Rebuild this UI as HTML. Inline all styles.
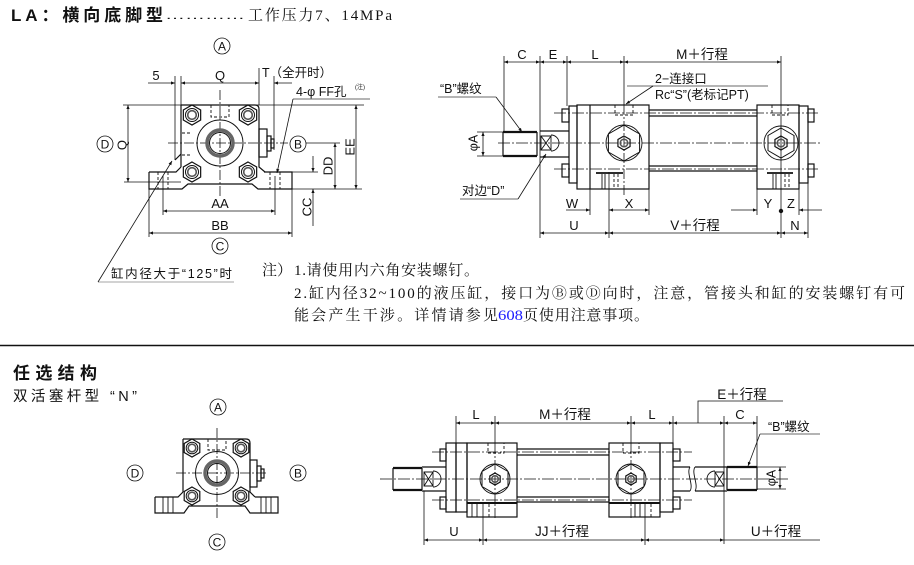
<!DOCTYPE html>
<html><head><meta charset="utf-8"><style>
html,body{margin:0;padding:0;background:#fff;}
svg{display:block}
text{font-family:"Liberation Sans","Noto Sans CJK SC",sans-serif;fill:#111;stroke:none}
.s{font-family:"Liberation Serif","Noto Serif CJK SC",serif}
.m{text-anchor:middle}
</style></head><body>
<svg width="914" height="565" viewBox="0 0 914 565" xmlns="http://www.w3.org/2000/svg">
<defs>
<marker id="a" viewBox="0 0 10 10" refX="10" refY="5" markerWidth="9" markerHeight="4" orient="auto-start-reverse" markerUnits="userSpaceOnUse"><path d="M0,1 L10,5 L0,9z" fill="#111"/></marker>
<path id="h10" d="M0,-10 L8.66,-5 L8.66,5 L0,10 L-8.66,5 L-8.66,-5Z"/>
<path id="h9" d="M0,-9 L7.8,-4.5 L7.8,4.5 L0,9 L-7.8,4.5 L-7.8,-4.5Z"/>
<path id="h18" d="M0,-18 L15.6,-9 L15.6,9 L0,18 L-15.6,9 L-15.6,-9Z"/>
<path id="h15" d="M0,-15 L13,-7.5 L13,7.5 L0,15 L-13,7.5 L-13,-7.5Z"/>
<path id="h7" d="M0,-7 L6.06,-3.5 L6.06,3.5 L0,7 L-6.06,3.5 L-6.06,-3.5Z"/>
<path id="h6" d="M0,-6 L5.2,-3 L5.2,3 L0,6 L-5.2,3 L-5.2,-3Z"/>
</defs>

<!-- ===== TITLE ===== -->
<text x="11" y="21" font-size="17" font-weight="bold" textLength="152" lengthAdjust="spacing">LA：横向底脚型</text>
<text x="165" y="19" font-size="12" textLength="80" lengthAdjust="spacingAndGlyphs">…………</text>
<text class="s" x="248" y="20" font-size="15" textLength="144" lengthAdjust="spacing">工作压力7、14MPa</text>

<!-- ===== TOP LEFT END VIEW ===== -->
<g fill="none" stroke="#111" stroke-width="0.8">
  <circle cx="222" cy="46" r="8"/>
  <circle cx="105" cy="144" r="8"/>
  <circle cx="298" cy="144" r="8"/>
  <circle cx="220" cy="246" r="8"/>
  <line x1="148" y1="83" x2="175" y2="83" marker-end="url(#a)"/>
  <line x1="181" y1="83" x2="259" y2="83" marker-start="url(#a)" marker-end="url(#a)"/>
  <line x1="292" y1="83" x2="274" y2="83" marker-end="url(#a)"/>
  <line x1="175" y1="76" x2="175" y2="160"/>
  <line x1="181" y1="76" x2="181" y2="105"/>
  <line x1="259" y1="68" x2="259" y2="105"/>
  <line x1="274" y1="76" x2="274" y2="150"/>
  <line x1="123" y1="105" x2="364" y2="105"/>
  <line x1="124" y1="182" x2="181" y2="182"/>
  <line x1="128" y1="105" x2="128" y2="182" marker-start="url(#a)" marker-end="url(#a)"/>
  <line x1="306" y1="143" x2="340" y2="143"/>
  <line x1="292" y1="189" x2="362" y2="189"/>
  <line x1="292" y1="172" x2="318" y2="172"/>
  <line x1="335" y1="143" x2="335" y2="189" marker-start="url(#a)" marker-end="url(#a)"/>
  <line x1="356" y1="105" x2="356" y2="189" marker-start="url(#a)" marker-end="url(#a)"/>
  <line x1="313" y1="156" x2="313" y2="172" marker-end="url(#a)"/>
  <line x1="313" y1="226" x2="313" y2="189" marker-end="url(#a)"/>
  <line x1="163" y1="176" x2="163" y2="215"/>
  <line x1="275" y1="176" x2="275" y2="215"/>
  <line x1="149" y1="189" x2="149" y2="237"/>
  <line x1="292" y1="189" x2="292" y2="237"/>
  <line x1="163" y1="211" x2="275" y2="211" marker-start="url(#a)" marker-end="url(#a)"/>
  <line x1="149" y1="233" x2="292" y2="233" marker-start="url(#a)" marker-end="url(#a)"/>
  <line x1="168" y1="143" x2="288" y2="143" stroke-dasharray="10 2 2 2"/>
  <line x1="220" y1="90" x2="220" y2="197" stroke-dasharray="10 2 2 2"/>
  <line x1="98" y1="282" x2="234" y2="282" stroke="#888"/>
  <line x1="98" y1="282" x2="172" y2="161" marker-end="url(#a)"/>
  <line x1="293" y1="99" x2="370" y2="99" stroke="#888" stroke-width="1.2"/>
  <line x1="293" y1="99" x2="277" y2="173" marker-end="url(#a)"/>
</g>
<g fill="none" stroke="#111" stroke-width="1.2">
  <path d="M181,105 H255 Q259,105 259,109 V167 L265,172"/>
  <line x1="181" y1="105" x2="181" y2="167"/>
  <path d="M175,160 L181,154"/>
  <path d="M149,172 H176 L181,167"/>
  <path d="M149,172 V189 H182 L188,184 H252 L258,189 H292 V172 H264"/>
  <rect x="259" y="129" width="8" height="28"/>
  <rect x="267" y="136" width="4" height="15"/>
  <rect x="271" y="139" width="3" height="9"/>
  <circle cx="220" cy="143" r="23" stroke-width="1"/>
  <circle cx="220" cy="143" r="13" stroke="#666" stroke-width="3.5"/>
  <circle cx="220" cy="143" r="10.5" stroke-width="1"/>
  <use href="#h10" x="192" y="115"/><use href="#h10" x="248" y="115"/>
  <use href="#h10" x="192" y="172"/><use href="#h10" x="248" y="172"/>
  <g stroke-width="1"><circle cx="192" cy="115" r="6.5"/><circle cx="248" cy="115" r="6.5"/><circle cx="192" cy="172" r="6.5"/><circle cx="248" cy="172" r="6.5"/></g>
  <g stroke-width="1.6" stroke="#555"><circle cx="192" cy="115" r="4.3"/><circle cx="248" cy="115" r="4.3"/><circle cx="192" cy="172" r="4.3"/><circle cx="248" cy="172" r="4.3"/></g>
  <g stroke-width="0.9" stroke-dasharray="3 2">
    <path d="M211,105 V117 H229 V105"/>
    <line x1="182" y1="133" x2="192" y2="133"/><line x1="182" y1="155" x2="192" y2="155"/>
    <line x1="158" y1="172" x2="158" y2="189"/><line x1="168" y1="172" x2="168" y2="189"/>
    <line x1="270" y1="172" x2="270" y2="189"/><line x1="280" y1="172" x2="280" y2="189"/>
  </g>
</g>
<g font-size="13">
  <text x="222" y="50.5" class="m" font-size="12">A</text>
  <text x="105" y="148.5" class="m" font-size="12">D</text>
  <text x="298" y="148.5" class="m" font-size="12">B</text>
  <text x="220" y="250.5" class="m" font-size="12">C</text>
  <text x="156" y="80" class="m">5</text>
  <text x="220" y="80" class="m">Q</text>
  <text x="262" y="77" font-size="12.5">T（全开时）</text>
  <text x="296" y="96" font-size="12.5">4-φ FF孔</text>
  <text x="355" y="89" font-size="6">(注)</text>
  <text x="220" y="208" class="m">AA</text>
  <text x="220" y="230" class="m">BB</text>
  <text transform="translate(126.5,145) rotate(-90)" class="m">Q</text>
  <text transform="translate(332.5,166) rotate(-90)" class="m">DD</text>
  <text transform="translate(354.5,147) rotate(-90)" class="m">EE</text>
  <text transform="translate(311.5,207) rotate(-90)" class="m">CC</text>
  <text x="111" y="278" font-size="12.5" textLength="121" lengthAdjust="spacing">缸内径大于“125”时</text>
</g>

<!-- ===== TOP RIGHT SIDE VIEW ===== -->
<g fill="none" stroke="#111" stroke-width="0.8">
  <line x1="504" y1="56" x2="504" y2="132"/>
  <line x1="540" y1="56" x2="540" y2="238"/>
  <line x1="567" y1="56" x2="567" y2="106"/>
  <line x1="624" y1="56" x2="624" y2="105"/>
  <line x1="781" y1="56" x2="781" y2="105"/>
  <line x1="504" y1="62" x2="540" y2="62" marker-start="url(#a)" marker-end="url(#a)"/>
  <line x1="540" y1="62" x2="567" y2="62" marker-start="url(#a)" marker-end="url(#a)"/>
  <line x1="567" y1="62" x2="624" y2="62" marker-start="url(#a)" marker-end="url(#a)"/>
  <line x1="624" y1="62" x2="781" y2="62" marker-start="url(#a)" marker-end="url(#a)"/>
  <line x1="627" y1="86" x2="768" y2="86" stroke="#888" stroke-width="1.2"/>
  <line x1="653" y1="86" x2="626" y2="104" marker-end="url(#a)"/>
  <line x1="438" y1="97" x2="496" y2="97" stroke="#888" stroke-width="1.2"/>
  <line x1="496" y1="97" x2="522" y2="132" marker-end="url(#a)"/>
  <line x1="460" y1="199" x2="518" y2="199" stroke="#888" stroke-width="1.2"/>
  <line x1="518" y1="199" x2="546" y2="154" marker-end="url(#a)"/>
  <line x1="477" y1="132" x2="503" y2="132"/>
  <line x1="477" y1="156" x2="503" y2="156"/>
  <line x1="483" y1="132" x2="483" y2="156" marker-start="url(#a)" marker-end="url(#a)"/>
  <line x1="498" y1="143" x2="822" y2="143" stroke-dasharray="12 2 2 2"/>
  <line x1="554" y1="113" x2="820" y2="113" stroke-dasharray="12 2 2 2"/>
  <line x1="554" y1="169" x2="820" y2="169" stroke-dasharray="12 2 2 2"/>
  <line x1="624" y1="105" x2="624" y2="196" stroke-dasharray="10 2 2 2"/>
  <line x1="781" y1="105" x2="781" y2="238"/>
  <line x1="590" y1="189" x2="590" y2="215"/>
  <line x1="649" y1="189" x2="649" y2="215"/>
  <line x1="609" y1="172" x2="609" y2="238"/>
  <line x1="757" y1="189" x2="757" y2="215"/>
  <line x1="799" y1="189" x2="799" y2="215"/>
  <line x1="808" y1="183" x2="808" y2="238"/>
  <line x1="566" y1="210" x2="590" y2="210" marker-end="url(#a)"/>
  <line x1="609" y1="210" x2="649" y2="210" marker-start="url(#a)" marker-end="url(#a)"/>
  <line x1="731" y1="210" x2="757" y2="210" marker-end="url(#a)"/>
  <line x1="822" y1="210" x2="799" y2="210" marker-end="url(#a)"/>
  <line x1="540" y1="233" x2="609" y2="233" marker-start="url(#a)" marker-end="url(#a)"/>
  <line x1="609" y1="233" x2="781" y2="233" marker-start="url(#a)" marker-end="url(#a)"/>
  <line x1="781" y1="233" x2="808" y2="233" marker-start="url(#a)" marker-end="url(#a)"/>
</g>
<circle cx="781" cy="211" r="2.2" fill="#111"/>
<g fill="none" stroke="#111" stroke-width="1.2">
  <line x1="503" y1="132" x2="503" y2="156"/>
  <line x1="537" y1="132" x2="537" y2="156"/>
  <line x1="503" y1="132" x2="537" y2="132" stroke-width="2.2"/>
  <line x1="503" y1="156" x2="537" y2="156" stroke-width="2.2"/>
  <line x1="540" y1="131" x2="569" y2="131"/>
  <line x1="540" y1="157" x2="569" y2="157"/>
  <path d="M541,136 H551 V150 H541 Z M541,136 L551,150 M551,136 L541,150" stroke-width="0.9"/>
  <path d="M551,135 A8,8 0 0 1 551,151" stroke-width="0.9"/>
  <rect x="562" y="109" width="7" height="13"/>
  <rect x="562" y="164" width="7" height="13"/>
  <rect x="569" y="106" width="8" height="77"/>
  <rect x="577" y="105" width="72" height="84"/>
  <line x1="590" y1="105" x2="590" y2="189"/>
  <line x1="649" y1="110" x2="757" y2="110"/>
  <line x1="649" y1="116" x2="757" y2="116"/>
  <line x1="649" y1="166" x2="757" y2="166"/>
  <line x1="649" y1="171" x2="757" y2="171"/>
  <rect x="757" y="105" width="42" height="84"/>
  <rect x="799" y="106" width="9" height="77"/>
  <rect x="808" y="109" width="6" height="13"/>
  <rect x="808" y="164" width="6" height="13"/>
  <circle cx="624" cy="143" r="18" stroke-width="0.9"/>
  <use href="#h18" x="624" y="143" stroke-width="1"/>
  <use href="#h7" x="624" y="143"/>
  <circle cx="624" cy="143" r="3.8" stroke-width="1.5" stroke="#555"/>
  <circle cx="781" cy="143" r="17" stroke-width="0.9"/>
  <use href="#h15" x="781" y="143" stroke-width="1"/>
  <use href="#h7" x="781" y="143"/>
  <circle cx="781" cy="143" r="3.8" stroke-width="1.5" stroke="#555"/>
  <line x1="596" y1="173" x2="623" y2="173" stroke-width="1.8"/>
  <line x1="767" y1="173" x2="793" y2="173" stroke-width="1.8"/>
  <g stroke-width="0.9">
    <line x1="602" y1="174" x2="602" y2="189"/><line x1="605" y1="174" x2="605" y2="189"/>
    <line x1="773" y1="174" x2="773" y2="189"/><line x1="776" y1="174" x2="776" y2="189"/>
  </g>
  <g stroke-width="0.9" stroke-dasharray="3 2">
    <line x1="614" y1="174" x2="614" y2="189"/><line x1="618" y1="174" x2="618" y2="189"/>
    <line x1="785" y1="174" x2="785" y2="189"/><line x1="789" y1="174" x2="789" y2="189"/>
    <path d="M615,105 V115 H633 V105"/>
    <path d="M772,105 V115 H788 V105"/>
  </g>
</g>
<g font-size="13">
  <text x="522" y="59" class="m">C</text>
  <text x="553" y="59" class="m">E</text>
  <text x="595" y="59" class="m">L</text>
  <text x="702" y="59" class="m" font-size="13.5">M＋行程</text>
  <text x="655" y="83" font-size="12.5">2−连接口</text>
  <text x="655" y="99" font-size="12.5">Rc“S”(老标记PT)</text>
  <text x="440" y="93" font-size="12.5">“B”螺纹</text>
  <text x="462" y="195" font-size="12.5">对边“D”</text>
  <text transform="translate(477.5,143) rotate(-90)" class="m" font-size="12.5">φA</text>
  <text x="572" y="208" class="m">W</text>
  <text x="629" y="208" class="m">X</text>
  <text x="768" y="208" class="m">Y</text>
  <text x="791" y="208" class="m">Z</text>
  <text x="574" y="230" class="m">U</text>
  <text x="695" y="230" class="m" font-size="13.5">V＋行程</text>
  <text x="795" y="230" class="m">N</text>
</g>

<!-- ===== NOTES ===== -->
<g class="s" font-size="15">
  <text class="s" x="262" y="275">注）</text>
  <text class="s" x="294" y="275" textLength="185" lengthAdjust="spacing">1.请使用内六角安装螺钉。</text>
  <text class="s" x="294" y="298" textLength="611" lengthAdjust="spacing">2.缸内径32~100的液压缸，接口为Ⓑ或Ⓓ向时，注意，管接头和缸的安装螺钉有可</text>
  <text class="s" x="294" y="320" textLength="204" lengthAdjust="spacing">能会产生干涉。详情请参见</text>
  <text class="s" x="498" y="320" style="fill:#1a1aff" textLength="25" lengthAdjust="spacingAndGlyphs">608</text>
  <text class="s" x="523" y="320" textLength="126" lengthAdjust="spacing">页使用注意事项。</text>
</g>
<line x1="0" y1="345.5" x2="914" y2="345.5" stroke="#111" stroke-width="1.6"/>

<!-- ===== OPTIONAL ===== -->
<text x="13" y="379" font-size="17" font-weight="bold" textLength="84" lengthAdjust="spacing">任选结构</text>
<text x="13" y="401" font-size="14.5" textLength="124" lengthAdjust="spacing">双活塞杆型 “N”</text>

<g fill="none" stroke="#111" stroke-width="0.8">
  <circle cx="218" cy="407" r="8"/>
  <circle cx="135" cy="473" r="8"/>
  <circle cx="298" cy="473" r="8"/>
  <circle cx="217" cy="542" r="8"/>
  <line x1="176" y1="473" x2="268" y2="473" stroke-dasharray="10 2 2 2"/>
  <line x1="217" y1="428" x2="217" y2="519" stroke-dasharray="10 2 2 2"/>
</g>
<g fill="none" stroke="#111" stroke-width="1.2">
  <path d="M183,439 H246 Q250,439 250,443 V492 L255,497"/>
  <line x1="183" y1="439" x2="183" y2="492"/>
  <path d="M155,497 H178 L183,492"/>
  <path d="M155,497 V513 H184 L189,506 H245 L250,513 H278 V497 H255"/>
  <rect x="250" y="460" width="7" height="27"/>
  <rect x="257" y="466" width="4" height="15"/>
  <rect x="261" y="469" width="3" height="9"/>
  <circle cx="217" cy="473" r="21.5" stroke-width="1"/>
  <circle cx="217" cy="473" r="12" stroke="#666" stroke-width="3.5"/>
  <circle cx="217" cy="473" r="9.5" stroke-width="1"/>
  <use href="#h9" x="192" y="448"/><use href="#h9" x="241" y="448"/>
  <use href="#h9" x="192" y="496"/><use href="#h9" x="241" y="496"/>
  <g stroke-width="1"><circle cx="192" cy="448" r="5.8"/><circle cx="241" cy="448" r="5.8"/><circle cx="192" cy="496" r="5.8"/><circle cx="241" cy="496" r="5.8"/></g>
  <g stroke-width="1.6" stroke="#555"><circle cx="192" cy="448" r="3.8"/><circle cx="241" cy="448" r="3.8"/><circle cx="192" cy="496" r="3.8"/><circle cx="241" cy="496" r="3.8"/></g>
  <g stroke-width="0.9" stroke-dasharray="3 2">
    <path d="M208,439 V450 H226 V439"/>
  </g>
  <g stroke-width="0.9">
    <line x1="163" y1="497" x2="163" y2="513"/><line x1="168" y1="497" x2="168" y2="513"/><line x1="173" y1="497" x2="173" y2="513"/>
    <line x1="261" y1="497" x2="261" y2="513"/><line x1="266" y1="497" x2="266" y2="513"/><line x1="271" y1="497" x2="271" y2="513"/>
  </g>
</g>
<g font-size="12">
  <text x="218" y="411.5" class="m">A</text>
  <text x="135" y="477.5" class="m">D</text>
  <text x="298" y="477.5" class="m">B</text>
  <text x="217" y="546.5" class="m">C</text>
</g>

<g fill="none" stroke="#111" stroke-width="0.8">
  <line x1="456" y1="416" x2="456" y2="443"/>
  <line x1="495" y1="416" x2="495" y2="444"/>
  <line x1="631" y1="416" x2="631" y2="444"/>
  <line x1="673" y1="416" x2="673" y2="444"/>
  <line x1="724" y1="416" x2="724" y2="544"/>
  <line x1="757" y1="416" x2="757" y2="467"/>
  <line x1="456" y1="423" x2="495" y2="423" marker-start="url(#a)" marker-end="url(#a)"/>
  <line x1="495" y1="423" x2="631" y2="423" marker-start="url(#a)" marker-end="url(#a)"/>
  <line x1="631" y1="423" x2="673" y2="423" marker-start="url(#a)" marker-end="url(#a)"/>
  <line x1="673" y1="423" x2="724" y2="423" marker-start="url(#a)" marker-end="url(#a)"/>
  <line x1="724" y1="423" x2="757" y2="423" marker-start="url(#a)" marker-end="url(#a)"/>
  <path d="M698,423 V401 H783"/>
  <line x1="760" y1="434" x2="820" y2="434" stroke="#888" stroke-width="1.2"/>
  <line x1="760" y1="434" x2="748" y2="466" marker-end="url(#a)"/>
  <line x1="757" y1="467" x2="786" y2="467"/>
  <line x1="757" y1="489" x2="786" y2="489"/>
  <line x1="780" y1="467" x2="780" y2="489" marker-start="url(#a)" marker-end="url(#a)"/>
  <line x1="380" y1="479" x2="790" y2="479" stroke-dasharray="12 2 2 2"/>
  <line x1="432" y1="452" x2="692" y2="452" stroke-dasharray="12 2 2 2"/>
  <line x1="432" y1="500" x2="692" y2="500" stroke-dasharray="12 2 2 2"/>
  <line x1="495" y1="444" x2="495" y2="520" stroke-dasharray="10 2 2 2"/>
  <line x1="631" y1="444" x2="631" y2="520" stroke-dasharray="10 2 2 2"/>
  <line x1="424" y1="491" x2="424" y2="545"/>
  <line x1="483" y1="503" x2="483" y2="545"/>
  <line x1="645" y1="503" x2="645" y2="545"/>
  <line x1="424" y1="540" x2="483" y2="540" marker-start="url(#a)" marker-end="url(#a)"/>
  <line x1="483" y1="540" x2="645" y2="540" marker-start="url(#a)" marker-end="url(#a)"/>
  <line x1="645" y1="540" x2="724" y2="540" marker-start="url(#a)" marker-end="url(#a)"/>
  <line x1="724" y1="540" x2="820" y2="540"/>
</g>
<g fill="none" stroke="#111" stroke-width="1.2">
  <line x1="393" y1="468" x2="393" y2="490"/>
  <line x1="422" y1="468" x2="422" y2="490"/>
  <line x1="393" y1="468" x2="422" y2="468" stroke-width="2.2"/>
  <line x1="393" y1="490" x2="422" y2="490" stroke-width="2.2"/>
  <line x1="422" y1="467" x2="446" y2="467"/>
  <line x1="422" y1="491" x2="446" y2="491"/>
  <path d="M424,472 H433 V486 H424 Z M424,472 L433,486 M433,472 L424,486" stroke-width="0.9"/>
  <path d="M433,471 A7.5,7.5 0 0 1 433,487" stroke-width="0.9"/>
  <rect x="440" y="449" width="6" height="12"/>
  <rect x="440" y="497" width="6" height="12"/>
  <rect x="446" y="443" width="10" height="69"/>
  <rect x="456" y="443" width="11" height="69"/>
  <rect x="467" y="443" width="50" height="74"/>
  <line x1="517" y1="449" x2="609" y2="449"/>
  <line x1="517" y1="455" x2="609" y2="455"/>
  <line x1="517" y1="497" x2="609" y2="497"/>
  <line x1="517" y1="502" x2="609" y2="502"/>
  <rect x="609" y="443" width="51" height="74"/>
  <rect x="660" y="443" width="13" height="69"/>
  <rect x="673" y="449" width="7" height="12"/>
  <rect x="673" y="497" width="7" height="12"/>
  <line x1="673" y1="467" x2="690" y2="467"/>
  <line x1="673" y1="491" x2="690" y2="491"/>
  <path d="M690,467 C686,473 694,485 690,491 M695,467 C691,473 699,485 695,491" stroke-width="0.9"/>
  <line x1="695" y1="467" x2="727" y2="467"/>
  <line x1="695" y1="491" x2="727" y2="491"/>
  <path d="M715,472 H724 V486 H715 Z M715,472 L724,486 M724,472 L715,486" stroke-width="0.9"/>
  <path d="M715,471 A7.5,7.5 0 0 0 715,487" stroke-width="0.9"/>
  <line x1="727" y1="467" x2="727" y2="490"/>
  <line x1="757" y1="467" x2="757" y2="490"/>
  <line x1="727" y1="467" x2="757" y2="467" stroke-width="2.2"/>
  <line x1="727" y1="490" x2="757" y2="490" stroke-width="2.2"/>
  <circle cx="495" cy="479" r="15" stroke-width="0.9"/>
  <use href="#h15" x="495" y="479" stroke-width="1"/>
  <use href="#h6" x="495" y="479"/>
  <circle cx="495" cy="479" r="3.3" stroke-width="1.5" stroke="#555"/>
  <circle cx="631" cy="479" r="15" stroke-width="0.9"/>
  <use href="#h15" x="631" y="479" stroke-width="1"/>
  <use href="#h6" x="631" y="479"/>
  <circle cx="631" cy="479" r="3.3" stroke-width="1.5" stroke="#555"/>
  <line x1="467" y1="503" x2="517" y2="503" stroke-width="2"/>
  <line x1="609" y1="503" x2="660" y2="503" stroke-width="2"/>
  <g stroke-width="0.9">
    <line x1="472" y1="504" x2="472" y2="517"/><line x1="477" y1="504" x2="477" y2="517"/>
    <line x1="635" y1="504" x2="635" y2="517"/><line x1="640" y1="504" x2="640" y2="517"/>
  </g>
  <g stroke-width="0.9" stroke-dasharray="3 2">
    <line x1="489" y1="504" x2="489" y2="517"/>
    <line x1="651" y1="504" x2="651" y2="517"/>
    <path d="M488,443 V453 H504 V443"/>
    <path d="M623,443 V453 H639 V443"/>
  </g>
</g>
<g font-size="13">
  <text x="476" y="419" class="m">L</text>
  <text x="565" y="419" class="m" font-size="13.5">M＋行程</text>
  <text x="652" y="419" class="m">L</text>
  <text x="742" y="399" class="m" font-size="13.5">E＋行程</text>
  <text x="740" y="419" class="m">C</text>
  <text x="768" y="431" font-size="12.5">“B”螺纹</text>
  <text transform="translate(775.5,478) rotate(-90)" class="m" font-size="12.5">φA</text>
  <text x="454" y="536" class="m">U</text>
  <text x="562" y="536" class="m" font-size="13.5">JJ＋行程</text>
  <text x="776" y="536" class="m" font-size="13.5">U＋行程</text>
</g>
</svg>
</body></html>
